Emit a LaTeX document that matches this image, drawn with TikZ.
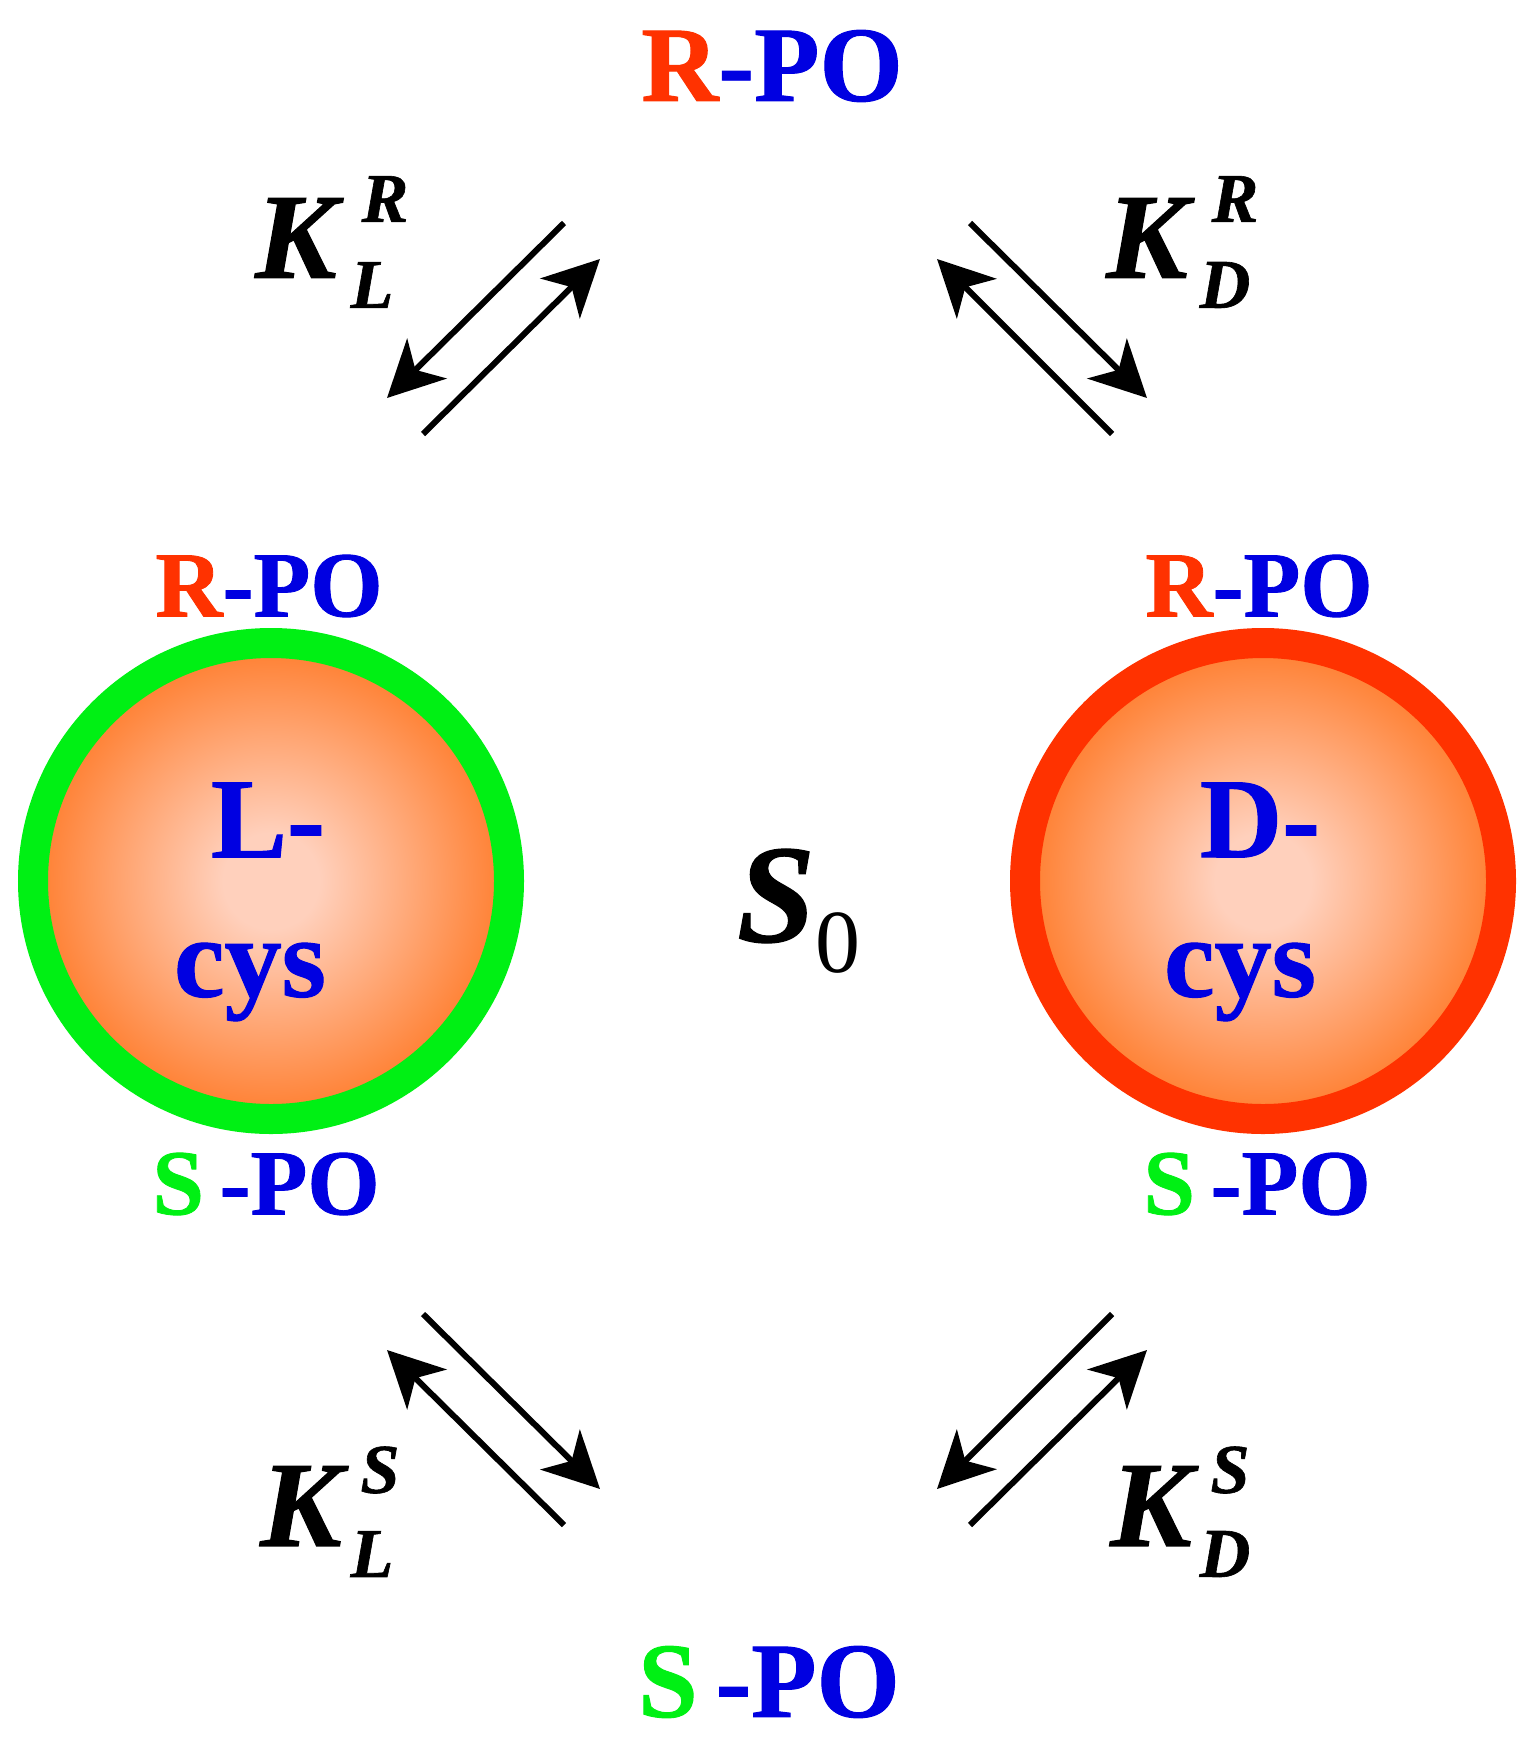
\documentclass[tikz,border=0pt]{standalone}
\usepackage{fontspec}
\setmainfont{Liberation Serif}[BoldFeatures={FakeBold=0.9}, BoldItalicFeatures={FakeBold=0.9}]
\usetikzlibrary{arrows.meta}
\definecolor{redc}{RGB}{255,50,0}
\definecolor{greenc}{RGB}{0,240,20}
\definecolor{bluec}{RGB}{0,0,225}
\definecolor{coreout}{RGB}{255,125,45}
\definecolor{corein}{RGB}{255,208,188}
\pgfdeclareradialshading{coreglow}{\pgfpoint{0bp}{0bp}}{color(0bp)=(corein); color(5bp)=(corein); color(25bp)=(coreout); color(50bp)=(coreout)}
\tikzset{
    x=0.5pt, y=-0.5pt,
    lab/.style={font=\bfseries\fontsize{46.5}{46}\selectfont, inner sep=0pt, text=bluec},
    biglab/.style={font=\bfseries\fontsize{53.5}{54}\selectfont, inner sep=0pt, text=bluec},
    core/.style={font=\bfseries\fontsize{57}{56}\selectfont, inner sep=0pt, text=bluec},
    keq/.style={font=\bfseries\itshape\fontsize{61}{60}\selectfont, inner sep=0pt},
    keqs/.style={font=\bfseries\itshape\fontsize{35}{34}\selectfont, inner sep=0pt},
    eqarrow/.style={line width=3pt, -{Stealth[length=28pt,width=28pt,inset=8pt]}},
}
\newcommand{\Rpo}{\textcolor{redc}{R}-PO}
\newcommand{\Spo}{\textcolor{greenc}{S}\,-PO}
\begin{document}
\begin{tikzpicture}
    \useasboundingbox (0, 0) rectangle (1533, 1744);

    % particles
    \shade[shading=coreglow] (271, 881) circle [radius=240];
    \shade[shading=coreglow] (1263, 881) circle [radius=240];
    \draw[greenc, line width=15pt] (271, 881) circle [radius=238];
    \draw[redc, line width=15pt] (1263, 881) circle [radius=238];

    \node[core] (lname) at (268, 820) {L-};
    \node[core] (lcys) at (250, 982) {cys};
    \node[core] (dname) at (1260, 820) {D-};
    \node[core] (dcys) at (1240, 982) {cys};
    \node[keq] (szero) at (776, 896) {\fontsize{70}{70}\selectfont S};
    \node[font=\fontsize{45}{45}\selectfont, inner sep=0pt] (szerosub) at (838, 943) {0};

    % labels
    \node[biglab] (rtop) at (772, 66) {\Rpo};
    \node[biglab] (sbot) at (769, 1682) {\Spo};
    \node[lab] (rleft) at (269, 586) {\Rpo};
    \node[lab] (rright) at (1259, 586) {\Rpo};
    \node[lab] (sleft) at (266, 1184) {\Spo};
    \node[lab] (sright) at (1257, 1184) {\Spo};

    % constants
    \node[keq] (kta) at (296, 238) {K};
    \node[keqs] at (385, 199) {R};
    \node[keqs] at (372, 285) {L};
    \node[keq] (ktb) at (1147, 238) {K};
    \node[keqs] at (1235, 199) {R};
    \node[keqs] at (1225, 285) {D};
    \node[keq] (kba) at (301, 1506) {K};
    \node[keqs] at (380, 1470) {S};
    \node[keqs] at (372, 1554) {L};
    \node[keq] (kbb) at (1151, 1506) {K};
    \node[keqs] at (1230, 1470) {S};
    \node[keqs] at (1225, 1554) {D};

    % arrows
    \coordinate (a1) at (564, 223);
    \coordinate (a2) at (387, 398);
    \coordinate (a3) at (423, 434);
    \coordinate (a4) at (600, 259);
    \draw[eqarrow] (a1) -- (a2);
    \draw[eqarrow] (a3) -- (a4);
    \coordinate (b1) at (970, 223);
    \coordinate (b2) at (1147, 398);
    \coordinate (b3) at (1112, 434);
    \coordinate (b4) at (937, 259);
    \draw[eqarrow] (b1) -- (b2);
    \draw[eqarrow] (b3) -- (b4);
    \coordinate (c1) at (423, 1314);
    \coordinate (c2) at (600, 1489);
    \coordinate (c3) at (564, 1525);
    \coordinate (c4) at (387, 1350);
    \draw[eqarrow] (c1) -- (c2);
    \draw[eqarrow] (c3) -- (c4);
    \coordinate (d1) at (1112, 1314);
    \coordinate (d2) at (937, 1489);
    \coordinate (d3) at (970, 1525);
    \coordinate (d4) at (1147, 1350);
    \draw[eqarrow] (d1) -- (d2);
    \draw[eqarrow] (d3) -- (d4);

\end{tikzpicture}
\end{document}
